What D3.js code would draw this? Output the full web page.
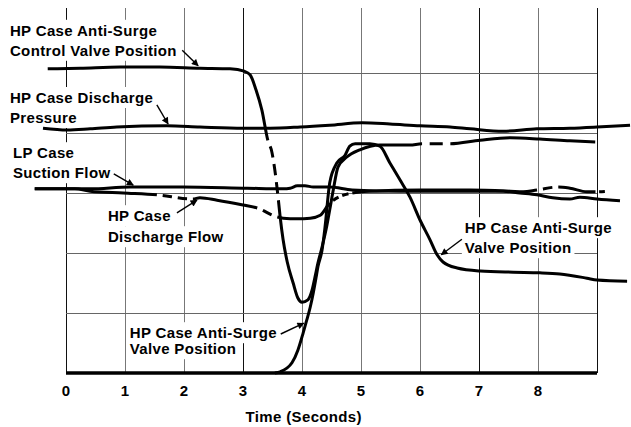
<!DOCTYPE html>
<html>
<head>
<meta charset="utf-8">
<script src="https://cdn.jsdelivr.net/npm/d3@7"></script>
<style>
  body { margin: 0; background: #fff; }
  svg { display: block; font-family: "Liberation Sans", Arial, Helvetica, sans-serif; font-weight: bold; }
  .grid line { shape-rendering: crispEdges; }
  .curve { fill: none; stroke: #000; stroke-width: 3; stroke-linecap: butt; stroke-linejoin: round; }
  .label, .tick-label, .axis-title { font-size: 15px; letter-spacing: 0.35px; fill: #000; }
  .arrow { stroke: #000; stroke-width: 1.4; }
</style>
</head>
<body>
<div id="chart"></div>
<script>
// time in seconds, value in grid divisions (unlabelled y axis)
const xTicks = [0, 1, 2, 3, 4, 5, 6, 7, 8];
const gridTimes = [0, 1, 2, 3, 4, 5, 6, 7, 8, 9];
const gridLevels = [1, 2, 3, 4, 5];

const controlValve = [
  [-0.31, 5.07], [0.24, 5.08], [0.92, 5.10], [1.59, 5.10], [2.27, 5.08], [2.78, 5.07],
  [3.02, 5.03], [3.12, 4.97], [3.22, 4.72], [3.32, 4.38], [3.42, 3.88], [3.49, 3.68],
  [3.54, 3.38], [3.6, 2.88], [3.63, 2.6], [3.68, 2.22], [3.75, 1.85], [3.85, 1.5],
  [3.93, 1.25], [4.0, 1.18], [4.1, 1.22], [4.17, 1.38], [4.22, 1.6], [4.27, 1.83],
  [4.34, 2.1], [4.42, 2.45], [4.47, 2.72], [4.53, 3.05], [4.61, 3.43], [4.76, 3.6],
  [4.98, 3.72], [5.32, 3.8], [5.83, 3.8], [6.03, 3.82], [6.51, 3.82], [7.02, 3.88],
  [7.53, 3.92], [8.03, 3.9], [8.54, 3.87], [8.97, 3.85]
];
const controlValveDashed = [[3.42, 3.6], [6.03, 6.51]];

const antiSurgeValve = [
  [3.54, 0], [3.63, 0.02], [3.83, 0.17], [3.93, 0.38], [4.02, 0.67], [4.08, 0.88],
  [4.14, 1.1], [4.19, 1.33], [4.24, 1.6], [4.27, 1.77], [4.34, 2.05], [4.39, 2.43],
  [4.47, 3.17], [4.59, 3.5], [4.73, 3.63], [4.81, 3.78], [4.9, 3.82], [5.15, 3.82],
  [5.32, 3.78], [5.49, 3.5], [5.66, 3.22], [5.83, 2.93], [6.0, 2.55], [6.17, 2.22],
  [6.29, 1.97], [6.39, 1.85], [6.63, 1.75], [7.02, 1.7], [7.58, 1.68], [8.03, 1.67],
  [8.37, 1.65], [8.83, 1.58], [9.0, 1.55], [9.51, 1.53]
];
const antiSurgeValveDashed = [];

const dischargePressure = [
  [-0.39, 4.08], [0.02, 4.05], [0.41, 4.07], [0.86, 4.1], [1.71, 4.12], [2.27, 4.1],
  [3.0, 4.08], [3.46, 4.08], [3.97, 4.1], [4.47, 4.13], [5.02, 4.17], [5.49, 4.15],
  [6.0, 4.12], [6.51, 4.1], [6.85, 4.07], [7.41, 4.03], [7.98, 4.07], [8.54, 4.08],
  [9.0, 4.1], [9.56, 4.13]
];
const dischargePressureDashed = [];

const suctionFlow = [
  [-0.53, 3.07], [0.02, 3.07], [0.41, 3.07], [1.08, 3.1], [1.98, 3.1], [3.07, 3.08],
  [3.68, 3.07], [3.8, 3.08], [3.92, 3.12], [4.05, 3.12], [4.19, 3.1], [4.47, 3.1],
  [4.85, 3.05], [5.66, 3.03], [6.85, 3.03], [7.41, 3.03], [7.69, 3.0], [7.98, 2.97],
  [8.25, 2.92], [8.54, 2.9], [8.71, 2.93], [9.0, 2.9], [9.39, 2.87]
];
const suctionFlowDashed = [];

const dischargeFlow = [
  [-0.53, 3.07], [0.15, 3.07], [0.41, 3.03], [0.97, 3.0], [1.54, 2.97], [2.15, 2.9],
  [2.27, 2.92], [2.56, 2.88], [3.0, 2.8], [3.24, 2.75], [3.58, 2.6], [3.68, 2.58],
  [3.92, 2.57], [4.14, 2.58], [4.31, 2.63], [4.47, 2.83], [4.85, 3.0], [5.15, 3.03],
  [6.0, 3.05], [6.85, 3.05], [7.53, 3.03], [7.75, 3.02], [7.98, 3.05], [8.34, 3.1],
  [8.54, 3.08], [8.83, 3.02], [8.97, 3.02], [9.19, 3.03]
];
const dischargeFlowDashed = [[1.54, 2.15], [3.24, 3.58], [4.47, 4.85], [7.98, 8.34], [8.97, 9.19]];

const labelTexts = [
  ['HP Case Anti-Surge', 'Control Valve Position'],
  ['HP Case Discharge', 'Pressure'],
  ['LP Case', 'Suction Flow'],
  ['HP Case', 'Discharge Flow'],
  ['HP Case Anti-Surge', 'Valve Position'],
  ['HP Case Anti-Surge', 'Valve Position']
];
const xTitle = 'Time (Seconds)';

// label anchor (first baseline) and arrow tail -> tip, all in data units
const labelAnchors = [[-0.95, 5.62], [-0.95, 4.5], [-0.9, 3.58], [0.71, 2.53], [1.08, 0.58], [6.76, 2.33]];
const labelLineGap = [20, 20, 20, 21, 16, 20];
const arrows = [
  [[1.97, 5.38], [2.24, 5.12]],
  [[1.54, 4.47], [1.73, 4.15]],
  [[0.81, 3.32], [1.14, 3.13]],
  [[1.88, 2.67], [2.22, 2.88]],
  [[3.64, 0.65], [4.03, 0.83]],
  [[6.71, 2.23], [6.36, 1.97]]
];

const width = 631, height = 427;
const gridTop = 8;

const x = d3.scaleLinear().domain([0, 9]).range([66, 597]);
const y = d3.scaleLinear().domain([0, 6]).range([373, 13]);

const svg = d3.select('#chart').append('svg')
  .attr('width', width).attr('height', height)
  .style('background', '#fff');

// grid
const grid = svg.append('g').attr('class', 'grid');
grid.selectAll('line.v').data(gridTimes).join('line')
  .attr('class', 'v')
  .attr('x1', d => Math.round(x(d)) + 0.5).attr('x2', d => Math.round(x(d)) + 0.5)
  .attr('y1', gridTop).attr('y2', y(0))
  .attr('stroke', d => [0, 3, 7, 9].includes(d) ? '#111' : '#777')
  .attr('stroke-width', 1);
grid.selectAll('line.h').data(gridLevels).join('line')
  .attr('class', 'h')
  .attr('x1', d => x(d === 5 ? 3 : 0)).attr('x2', x(9))
  .attr('y1', d => Math.round(y(d)) + 0.5).attr('y2', d => Math.round(y(d)) + 0.5)
  .attr('stroke', '#666')
  .attr('stroke-width', 1);

// bottom axis
svg.append('line')
  .attr('x1', x(0)).attr('x2', x(9))
  .attr('y1', y(0)).attr('y2', y(0))
  .attr('stroke', '#000').attr('stroke-width', 3.5);

svg.append('g').selectAll('text').data(xTicks).join('text')
  .attr('class', 'tick-label')
  .attr('x', d => x(d)).attr('y', 396)
  .attr('text-anchor', 'middle')
  .text(d => d);

svg.append('text')
  .attr('class', 'axis-title')
  .attr('x', x(4.03)).attr('y', 422)
  .attr('text-anchor', 'middle')
  .text(xTitle);

// labels with white backing that breaks the grid
const labels = svg.append('g').attr('class', 'labels');
labelTexts.forEach((lines, i) => {
  const [lt, lv] = labelAnchors[i];
  lines.forEach((line, j) => {
    const back = labels.append('rect').attr('fill', '#fff');
    const t = labels.append('text')
      .attr('class', 'label')
      .attr('x', x(lt))
      .attr('y', y(lv) + j * labelLineGap[i])
      .text(line);
    const b = t.node().getBBox();
    back.attr('x', b.x - 3).attr('y', b.y - 2)
      .attr('width', b.width + 6).attr('height', b.height + 4);
  });
});

svg.append('defs').append('marker')
  .attr('id', 'head')
  .attr('viewBox', '0 0 10 10')
  .attr('refX', 9).attr('refY', 5)
  .attr('markerUnits', 'userSpaceOnUse')
  .attr('markerWidth', 8).attr('markerHeight', 7)
  .attr('orient', 'auto')
  .append('path').attr('d', 'M0,0L10,5L0,10z').attr('fill', '#000');

svg.append('g').selectAll('line').data(arrows).join('line')
  .attr('class', 'arrow')
  .attr('x1', d => x(d[0][0])).attr('y1', d => y(d[0][1]))
  .attr('x2', d => x(d[1][0])).attr('y2', d => y(d[1][1]))
  .attr('marker-end', 'url(#head)');

// curves
const series = [
  { points: dischargePressure, dashed: dischargePressureDashed, dash: [9, 5] },
  { points: suctionFlow, dashed: suctionFlowDashed, dash: [9, 5] },
  { points: dischargeFlow, dashed: dischargeFlowDashed, dash: [8, 5] },
  { points: controlValve, dashed: controlValveDashed, dash: [12, 7] },
  { points: antiSurgeValve, dashed: antiSurgeValveDashed, dash: [9, 5] }
];

const line = d3.line()
  .x(d => x(d[0]))
  .y(d => y(d[1]))
  .curve(d3.curveMonotoneX);

function lengthAtX(node, px) {
  let lo = 0, hi = node.getTotalLength();
  for (let k = 0; k < 40; k++) {
    const mid = (lo + hi) / 2;
    if (node.getPointAtLength(mid).x < px) lo = mid; else hi = mid;
  }
  return (lo + hi) / 2;
}

function dashArray(node, spans, [d, g]) {
  const total = node.getTotalLength();
  const segs = [];
  let cur = 0;
  spans.forEach(([a, b]) => {
    const s = lengthAtX(node, x(a));
    const e = lengthAtX(node, x(b));
    segs.push(s - cur);
    const inner = e - s;
    const n = Math.max(1, Math.round((inner - g) / (d + g)));
    const k = inner / (n * (d + g) + g);
    for (let i = 0; i < n; i++) segs.push(g * k, d * k);
    segs.push(g * k);
    cur = e;
  });
  segs.push(total - cur + 5, 10);
  return segs.join(' ');
}

const curves = svg.append('g').attr('class', 'curves');
series.forEach(s => {
  const p = curves.append('path')
    .attr('class', 'curve')
    .attr('d', line(s.points));
  if (s.dashed.length) p.attr('stroke-dasharray', dashArray(p.node(), s.dashed, s.dash));
});
</script>
</body>
</html>
